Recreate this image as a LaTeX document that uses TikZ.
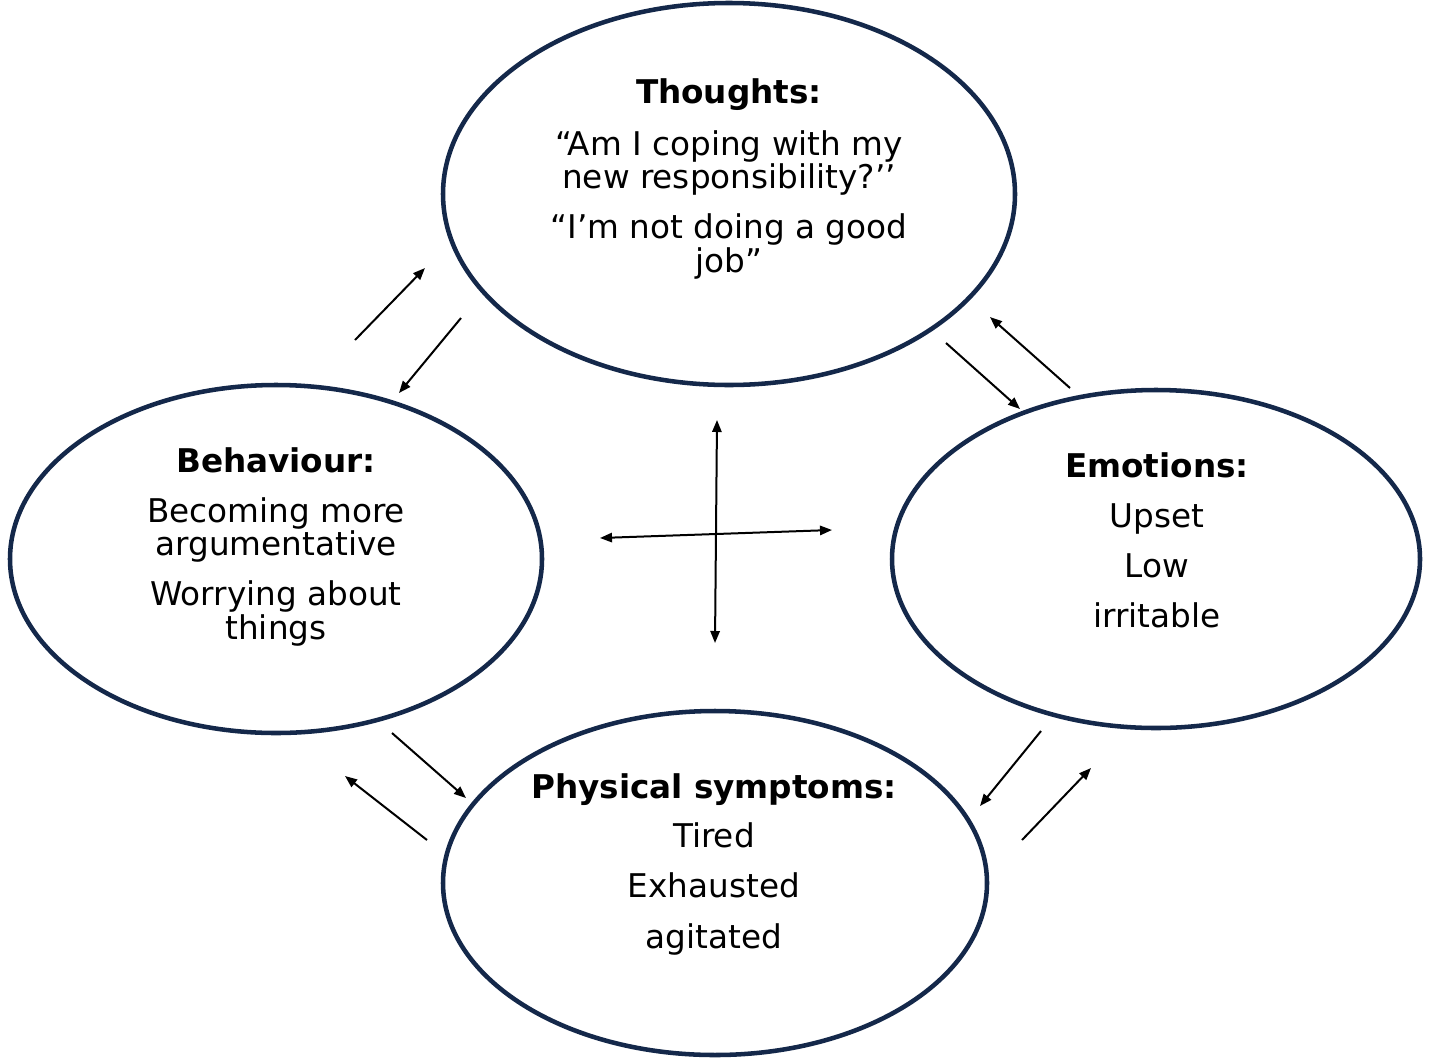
\documentclass[tikz,border=0pt]{standalone}
\usepackage{fontspec}
\setmainfont{DejaVu Sans}
\usetikzlibrary{arrows.meta,shapes.geometric}
\definecolor{ringblue}{HTML}{14284A}
\begin{document}
\begin{tikzpicture}[x=0.75pt,y=-0.75pt,
  ring/.style={draw=ringblue,line width=3.4pt,ellipse,inner sep=0pt},
  txt/.style={font=\fontsize{24.5}{29}\selectfont,text height=0.75em,text depth=0.2em,inner sep=0pt,anchor=center},
  head/.style={txt,font=\fontsize{24.5}{29}\selectfont\bfseries},
  link/.style={line width=1.5pt,-{Triangle[length=9pt,width=7pt]}},
  dlink/.style={line width=1.5pt,{Triangle[length=9pt,width=7pt]}-{Triangle[length=9pt,width=7pt]}}]
\useasboundingbox (0,0) rectangle (1430,1057);

% four ellipses
\node[ring,minimum width=429pt,minimum height=286.5pt] (th) at (729,194) {};
\node[ring,minimum width=399pt,minimum height=261pt] (be) at (276,559) {};
\node[ring,minimum width=396pt,minimum height=253.5pt] (em) at (1156,559) {};
\node[ring,minimum width=408pt,minimum height=258pt] (ph) at (715,883) {};

% thoughts
\node[head] (th0) at (729,100) {Thoughts:};
\node[txt] (th1) at (729,152) {“Am I coping with my};
\node[txt] (th2) at (729,185) {new responsibility?’’};
\node[txt] (th3) at (729,235) {“I’m not doing a good};
\node[txt] (th4) at (729,269) {job”};

% behaviour
\node[head] (be0) at (276,469) {Behaviour:};
\node[txt] (be1) at (276,519) {Becoming more};
\node[txt] (be2) at (276,552) {argumentative};
\node[txt] (be3) at (276,602) {Worrying about};
\node[txt] (be4) at (276,636) {things};

% emotions
\node[head] (em0) at (1157,474) {Emotions:};
\node[txt] (em1) at (1157,524) {Upset};
\node[txt] (em2) at (1157,574) {Low};
\node[txt] (em3) at (1157,624) {irritable};

% physical symptoms
\node[head] (ph0) at (714,795) {Physical symptoms:};
\node[txt] (ph1) at (714,844) {Tired};
\node[txt] (ph2) at (714,894) {Exhausted};
\node[txt] (ph3) at (714,945) {agitated};

% arrow end points
\coordinate (a1s) at (355,340);  \coordinate (a1e) at (425,268);
\coordinate (a2s) at (461,318);  \coordinate (a2e) at (399,393);
\coordinate (a3s) at (946,343);  \coordinate (a3e) at (1020,409);
\coordinate (a4s) at (1070,388); \coordinate (a4e) at (990,317);
\coordinate (vs) at (715,643);   \coordinate (ve) at (717,420);
\coordinate (hs) at (600,538);   \coordinate (he) at (832,530);
\coordinate (a7s) at (392,733);  \coordinate (a7e) at (466,798);
\coordinate (a8s) at (427,840);  \coordinate (a8e) at (345,776);
\coordinate (a9s) at (1041,731); \coordinate (a9e) at (980,806);
\coordinate (a10s) at (1022,840);\coordinate (a10e) at (1091,768);

\draw[link] (a1s) -- (a1e);
\draw[link] (a2s) -- (a2e);
\draw[link] (a3s) -- (a3e);
\draw[link] (a4s) -- (a4e);
\draw[dlink] (vs) -- (ve);
\draw[dlink] (hs) -- (he);
\draw[link] (a7s) -- (a7e);
\draw[link] (a8s) -- (a8e);
\draw[link] (a9s) -- (a9e);
\draw[link] (a10s) -- (a10e);
\end{tikzpicture}
\end{document}
